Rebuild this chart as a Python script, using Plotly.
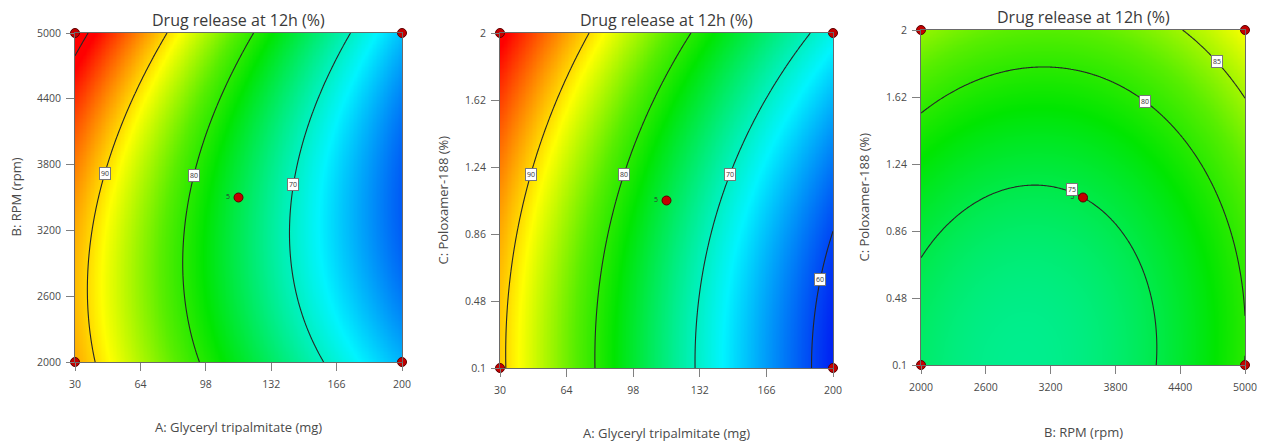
import numpy as np
import plotly.graph_objects as go

# ---- Factors (actual units) -------------------------------------------------
A_RANGE = [30.0, 200.0]      # Glyceryl tripalmitate (mg)
B_RANGE = [2000.0, 5000.0]   # RPM
C_RANGE = [0.1, 2.0]         # Poloxamer-188 (%)

A_TICKS = [30, 64, 98, 132, 166, 200]
B_TICKS = [2000, 2600, 3200, 3800, 4400, 5000]
C_TICKS = [0.1, 0.48, 0.86, 1.24, 1.62, 2]
C_TICK_TEXT = ["0.1", "0.48", "0.86", "1.24", "1.62", "2"]

# ---- Quadratic response-surface model in coded factors -----------------------
INTERCEPT = 75.0
COEF_A, COEF_B, COEF_C = -15.97, 2.52, 4.78
COEF_AB, COEF_AC, COEF_BC = -2.3, 0.2, -0.65
COEF_AA, COEF_BB, COEF_CC = 1.8, 4.15, 2.5

# ---- Design points shown on each slice --------------------------------------
CENTER_REPLICATES = 5

# ---- Contour levels per slice -----------------------------------------------
LEVELS_AB = dict(start=70, end=100, size=10)
LEVELS_AC = dict(start=60, end=90, size=10)
LEVELS_BC = dict(start=75, end=85, size=5)
LABELS_AB = [90, 80, 70]
LABELS_AC = [90, 80, 70, 60]
LABELS_BC = [75, 80, 85]

TITLE = "Drug release at 12h (%)"
NAMES = {"A": "A: Glyceryl tripalmitate (mg)",
         "B": "B: RPM (rpm)",
         "C": "C: Poloxamer-188 (%)"}
RANGES = {"A": A_RANGE, "B": B_RANGE, "C": C_RANGE}


def mid(r):
    return 0.5 * (r[0] + r[1])


def coded(v, r):
    return (np.asarray(v, dtype=float) - mid(r)) / (0.5 * (r[1] - r[0]))


def predict(A, B, C):
    a, b, c = coded(A, A_RANGE), coded(B, B_RANGE), coded(C, C_RANGE)
    return (INTERCEPT + COEF_A * a + COEF_B * b + COEF_C * c
            + COEF_AB * a * b + COEF_AC * a * c + COEF_BC * b * c
            + COEF_AA * a * a + COEF_BB * b * b + COEF_CC * c * c)


def surface(xf, yf, xs, ys):
    X, Y = np.meshgrid(xs, ys)
    vals = {k: np.full_like(X, mid(RANGES[k])) for k in "ABC"}
    vals[xf], vals[yf] = X, Y
    return predict(vals["A"], vals["B"], vals["C"])


def solve_level(xf, yf, level, fixed_axis, fixed_value):
    """Locate where a contour level crosses a horizontal/vertical line."""
    free = yf if fixed_axis == "x" else xf
    t = np.linspace(RANGES[free][0], RANGES[free][1], 4001)
    vals = {k: np.full_like(t, mid(RANGES[k])) for k in "ABC"}
    vals[free] = t
    vals[xf if fixed_axis == "x" else yf] = np.full_like(t, fixed_value)
    z = predict(vals["A"], vals["B"], vals["C"]) - level
    idx = np.where(np.sign(z[:-1]) != np.sign(z[1:]))[0]
    if len(idx) == 0:
        return None
    i = idx[0]
    root = t[i] - z[i] * (t[i + 1] - t[i]) / (z[i + 1] - z[i])
    return (fixed_value, root) if fixed_axis == "x" else (root, fixed_value)


COLORSCALE = [[0.0, "#0000f0"], [0.25, "#00f4ff"], [0.5, "#00e600"],
              [0.6, "#58ee00"], [0.75, "#ffff00"], [1.0, "#ff0000"]]
ZMIN, ZMAX = 57.0, 99.0

W, H = 1268, 444

# slices: (x factor, y factor, levels, labelled levels, label anchors, box px)
PANELS = [
    dict(xf="A", yf="B", lv=LEVELS_AB, labels=LABELS_AB,
         anchors={90: ("y", 3720), 80: ("y", 3700), 70: ("y", 3615)},
         box=(75, 402, 33, 362), title_y=20, xt_y=427, yt_x=15),
    dict(xf="A", yf="C", lv=LEVELS_AC, labels=LABELS_AC,
         anchors={90: ("y", 1.195), 80: ("y", 1.195), 70: ("y", 1.195), 60: ("y", 0.60)},
         box=(500, 833, 33, 368), title_y=20, xt_y=433, yt_x=442),
    dict(xf="B", yf="C", lv=LEVELS_BC, labels=LABELS_BC,
         anchors={75: ("x", 3400), 80: ("x", 4074), 85: ("x", 4739)},
         box=(921, 1245, 30, 365), title_y=17, xt_y=432, yt_x=863),
]

fig = go.Figure()
annotations = []
layout_axes = {}
FONT = "Open Sans, Noto Sans, sans-serif"

for i, p in enumerate(PANELS, start=1):
    xf, yf = p["xf"], p["yf"]
    xs = np.linspace(RANGES[xf][0], RANGES[xf][1], 241)
    ys = np.linspace(RANGES[yf][0], RANGES[yf][1], 241)
    z = surface(xf, yf, xs, ys)
    xa = "x" if i == 1 else f"x{i}"
    ya = "y" if i == 1 else f"y{i}"

    fig.add_trace(go.Contour(
        x=xs, y=ys, z=z, xaxis=xa, yaxis=ya,
        colorscale=COLORSCALE, zmin=ZMIN, zmax=ZMAX, showscale=False,
        contours=dict(start=p["lv"]["start"], end=p["lv"]["end"],
                      size=p["lv"]["size"], coloring="heatmap", showlabels=False),
        line=dict(color="#262626", width=1.1), hoverinfo="skip"))

    # design points: four corners plus the replicated centre point
    rx, ry = RANGES[xf], RANGES[yf]
    px_pts = [rx[0], rx[0], rx[1], rx[1], mid(rx)]
    py_pts = [ry[0], ry[1], ry[0], ry[1], mid(ry)]
    fig.add_trace(go.Scatter(
        x=px_pts, y=py_pts, xaxis=xa, yaxis=ya, mode="markers+text",
        text=["", "", "", "", f"{CENTER_REPLICATES} "], textposition="middle left",
        textfont=dict(size=7, color="#333333", family=FONT),
        marker=dict(size=9, color="#c40000", line=dict(color="#5a0000", width=1)),
        cliponaxis=False, showlegend=False, hoverinfo="skip"))

    # contour labels in small boxes
    for lev in p["labels"]:
        ax_fixed, val = p["anchors"][lev]
        pos = solve_level(xf, yf, lev, ax_fixed, val)
        if pos is None:
            continue
        annotations.append(dict(
            x=pos[0], y=pos[1], xref=xa, yref=ya, text=str(lev), showarrow=False,
            yshift=3 if (xf, lev) == ("B", 75) else 0,
            font=dict(size=7, color="#333333", family=FONT),
            bgcolor="#ffffff", bordercolor="#777777", borderwidth=1, borderpad=1))

    x0, x1, y0, y1 = p["box"]
    common = dict(showgrid=False, zeroline=False, showline=True, mirror=True,
                  automargin=False,
                  linecolor="#6a6a6a", linewidth=1, ticks="outside", ticklen=8,
                  tickcolor="#808080", tickfont=dict(size=10.5, color="#4a4a4a", family=FONT))
    xticks = {"A": A_TICKS, "B": B_TICKS, "C": C_TICKS}[xf]
    yticks = {"A": A_TICKS, "B": B_TICKS, "C": C_TICKS}[yf]
    ytext = C_TICK_TEXT if yf == "C" else [str(t) for t in yticks]
    layout_axes["xaxis" if i == 1 else f"xaxis{i}"] = dict(
        common, domain=[x0 / W, x1 / W], range=list(rx), tickvals=xticks,
        anchor=ya, ticklabelstandoff=4)
    layout_axes["yaxis" if i == 1 else f"yaxis{i}"] = dict(
        common, domain=[1 - y1 / H, 1 - y0 / H], range=list(ry), tickvals=yticks,
        ticktext=ytext, anchor=xa, ticklabelstandoff=3)

    cx = 0.5 * (x0 + x1)
    annotations.append(dict(x=cx / W, y=1 - p["title_y"] / H, xref="paper", yref="paper",
                            text=TITLE, showarrow=False, xanchor="center", yanchor="middle",
                            font=dict(size=16, color="#3a3a3a", family=FONT)))
    annotations.append(dict(x=cx / W, y=1 - p["xt_y"] / H, xref="paper", yref="paper",
                            text=NAMES[xf], showarrow=False, xanchor="center", yanchor="middle",
                            font=dict(size=13, color="#4a4a4a", family=FONT)))
    annotations.append(dict(x=p["yt_x"] / W, y=1 - 0.5 * (y0 + y1) / H, xref="paper",
                            yref="paper", text=NAMES[yf], showarrow=False, textangle=-90,
                            xanchor="center", yanchor="middle",
                            font=dict(size=13, color="#4a4a4a", family=FONT)))

fig.update_layout(width=W, height=H, margin=dict(l=0, r=0, t=0, b=0),
                  paper_bgcolor="white", plot_bgcolor="white",
                  annotations=annotations, showlegend=False, **layout_axes)

fig.write_html("out.html")
